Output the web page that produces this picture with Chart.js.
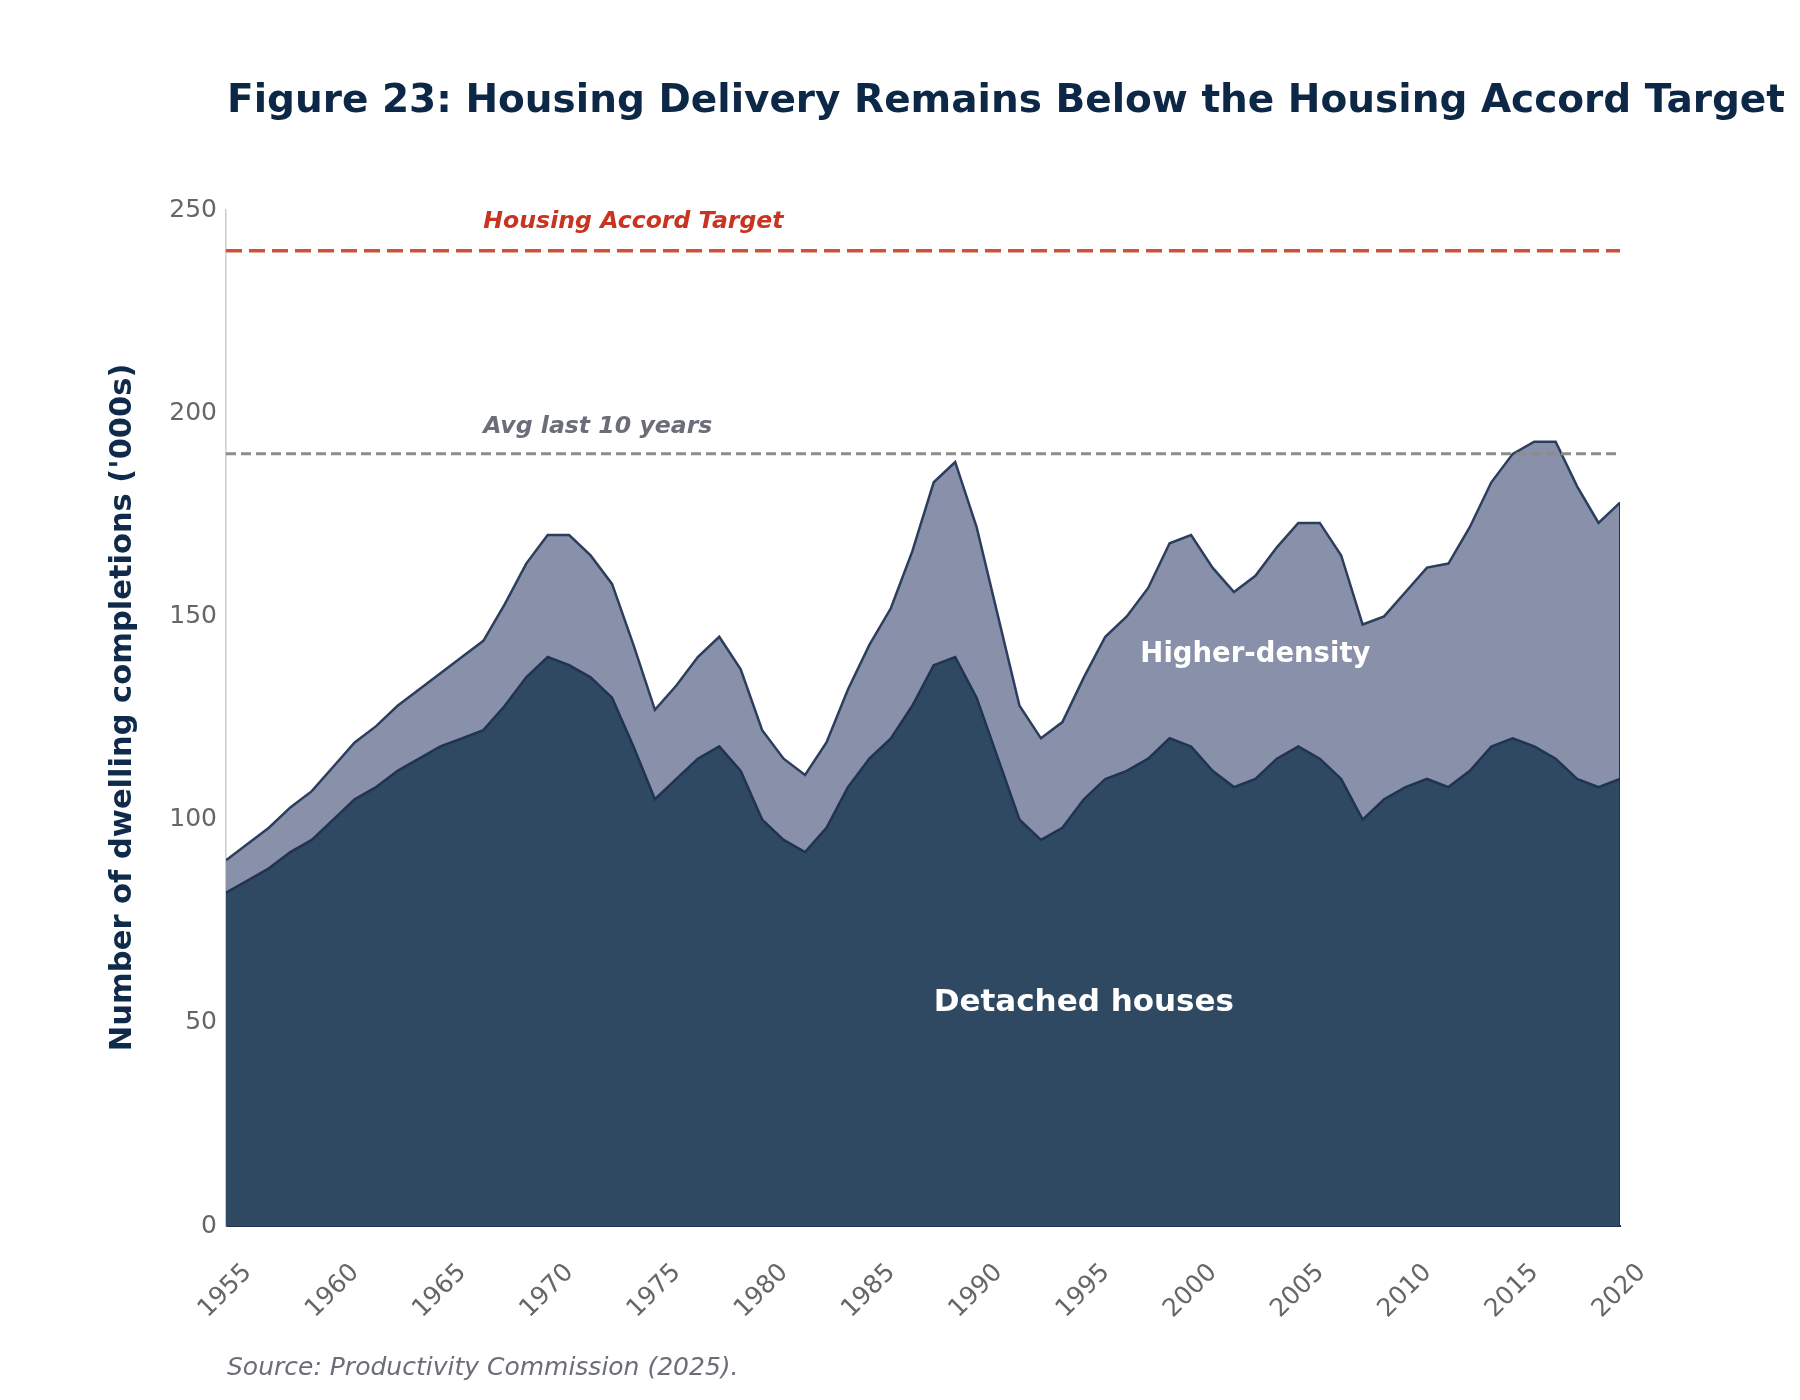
<!DOCTYPE html>
<html>
<head>
<meta charset="utf-8">
<script src="https://cdn.jsdelivr.net/npm/chart.js@4.4.1/dist/chart.umd.min.js"></script>
<style>
  body { margin: 0; background: #ffffff; }
  #wrap { width: 1800px; height: 1400px; }
</style>
</head>
<body>
<div id="wrap"><canvas id="chart" width="1800" height="1400"></canvas></div>
<script>
// years 1955..2020, values in '000s
var years = [];
for (var yr = 1955; yr <= 2020; yr++) years.push(yr);

var detached = [82, 85, 88, 92, 95, 100, 105, 108, 112, 115,
                118, 120, 122, 128, 135, 140, 138, 135, 130, 118,
                105, 110, 115, 118, 112, 100, 95, 92, 98, 108,
                115, 120, 128, 138, 140, 130, 115, 100, 95, 98,
                105, 110, 112, 115, 120, 118, 112, 108, 110, 115,
                118, 115, 110, 100, 105, 108, 110, 108, 112, 118,
                120, 118, 115, 110, 108, 110];

var higherDensity = [8, 9, 10, 11, 12, 13, 14, 15, 16, 17,
                     18, 20, 22, 25, 28, 30, 32, 30, 28, 25,
                     22, 23, 25, 27, 25, 22, 20, 19, 21, 24,
                     28, 32, 38, 45, 48, 42, 35, 28, 25, 26,
                     30, 35, 38, 42, 48, 52, 50, 48, 50, 52,
                     55, 58, 55, 48, 45, 48, 52, 55, 60, 65,
                     70, 75, 78, 72, 65, 68];

var accordTarget = 240;
var avgLast10 = 190;

var yTicks = [0, 50, 100, 150, 200, 250];
var xTicks = [1955, 1960, 1965, 1970, 1975, 1980, 1985, 1990, 1995, 2000, 2005, 2010, 2015, 2020];

var FONT = '"DejaVu Sans", "Liberation Sans", sans-serif';

var last = years.length - 1;
var detachedPts = years.map(function (y, i) { return { x: y, y: detached[i] }; });
var totalPts = years.map(function (y, i) { return { x: y, y: detached[i] + higherDensity[i] }; });
var targetPts = [{ x: years[0], y: accordTarget }, { x: years[last], y: accordTarget }];
var avgPts = [{ x: years[0], y: avgLast10 }, { x: years[last], y: avgLast10 }];
// right-hand closing edge of the stacked areas
var edgePts = [{ x: years[last], y: 0 }, { x: years[last], y: detached[last] + higherDensity[last] }];

// text overlays (title, source, annotations)
var textPlugin = {
    id: 'textPlugin',
    afterDatasetsDraw: function (chart) {
        var ctx = chart.ctx;
        var x = chart.scales.x, y = chart.scales.y;
        ctx.save();
        ctx.textBaseline = 'alphabetic';
        ctx.textAlign = 'left';
        ctx.font = 'italic bold 23.6px ' + FONT;
        ctx.fillStyle = '#c8341f';
        ctx.fillText('Housing Accord Target', x.getPixelForValue(1967), y.getPixelForValue(245.6));
        ctx.fillStyle = '#6b6e78';
        ctx.fillText('Avg last 10 years', x.getPixelForValue(1967), y.getPixelForValue(195.2));

        ctx.textAlign = 'center';
        ctx.textBaseline = 'middle';
        ctx.fillStyle = '#ffffff';
        ctx.font = 'bold 31px ' + FONT;
        ctx.fillText('Detached houses', x.getPixelForValue(1995), y.getPixelForValue(55));
        ctx.font = 'bold 27.5px ' + FONT;
        ctx.fillText('Higher-density', x.getPixelForValue(2003), y.getPixelForValue(140.5));
        ctx.restore();
    },
    afterDraw: function (chart) {
        var ctx = chart.ctx;
        ctx.save();
        ctx.textAlign = 'left';
        ctx.textBaseline = 'alphabetic';
        ctx.fillStyle = '#0d2747';
        ctx.font = 'bold 39px ' + FONT;
        ctx.fillText('Figure 23: Housing Delivery Remains Below the Housing Accord Target', 227, 112);
        ctx.fillStyle = '#6b6e78';
        ctx.font = 'italic 25px ' + FONT;
        ctx.fillText('Source: Productivity Commission (2025).', 227, 1375);
        ctx.restore();
    }
};

var ctx = document.getElementById('chart').getContext('2d');
new Chart(ctx, {
    type: 'line',
    data: {
        datasets: [
            { label: 'Detached houses', data: detachedPts, borderColor: '#1f3352', borderWidth: 2.5,
              backgroundColor: '#304963', fill: 'origin', pointRadius: 0, tension: 0, order: 2 },
            { label: 'Higher-density', data: totalPts, borderColor: '#2c3e5e', borderWidth: 2.5,
              backgroundColor: '#8991aa', fill: '-1', pointRadius: 0, tension: 0, order: 3 },
            { label: 'Housing Accord Target', data: targetPts, borderColor: '#d0503c', borderWidth: 3.5,
              borderDash: [16, 7], fill: false, pointRadius: 0, order: 1 },
            { label: 'Avg last 10 years', data: avgPts, borderColor: '#8c8c8c', borderWidth: 3,
              borderDash: [10, 5], fill: false, pointRadius: 0, order: 1 },
            { label: 'edge', data: edgePts, borderColor: '#1f3352', borderWidth: 2,
              fill: false, pointRadius: 0, order: 0 }
        ]
    },
    options: {
        responsive: false,
        animation: false,
        devicePixelRatio: 1,
        layout: { padding: { top: 210, right: 180, bottom: 0, left: 0 } },
        plugins: {
            legend: { display: false },
            tooltip: { enabled: false }
        },
        scales: {
            x: {
                type: 'linear',
                min: 1955,
                max: 2020,
                afterFit: function (scale) { scale.height = 174; },
                afterBuildTicks: function (scale) {
                    scale.ticks = xTicks.map(function (v) { return { value: v }; });
                },
                grid: { display: false },
                border: { display: true, color: '#1f3352', width: 2 },
                ticks: {
                    autoSkip: false,
                    minRotation: 45,
                    maxRotation: 45,
                    padding: 24,
                    labelOffset: 22,
                    color: '#666666',
                    font: { family: FONT, size: 25 },
                    callback: function (v) { return String(v); }
                }
            },
            y: {
                min: 0,
                max: 250,
                afterFit: function (scale) { scale.width = 226; },
                afterBuildTicks: function (scale) {
                    scale.ticks = yTicks.map(function (v) { return { value: v }; });
                },
                grid: { display: false },
                border: { display: true, color: '#cccccc', width: 1.5 },
                ticks: {
                    padding: 1,
                    color: '#666666',
                    font: { family: FONT, size: 25 },
                    callback: function (v) { return String(v); }
                },
                title: {
                    display: true,
                    text: "  Number of dwelling completions ('000s)",
                    color: '#0f2a4a',
                    font: { family: FONT, size: 30.5, weight: 'bold' },
                    padding: { top: 105, bottom: 0 }
                }
            }
        }
    },
    plugins: [textPlugin]
});
</script>
</body>
</html>
